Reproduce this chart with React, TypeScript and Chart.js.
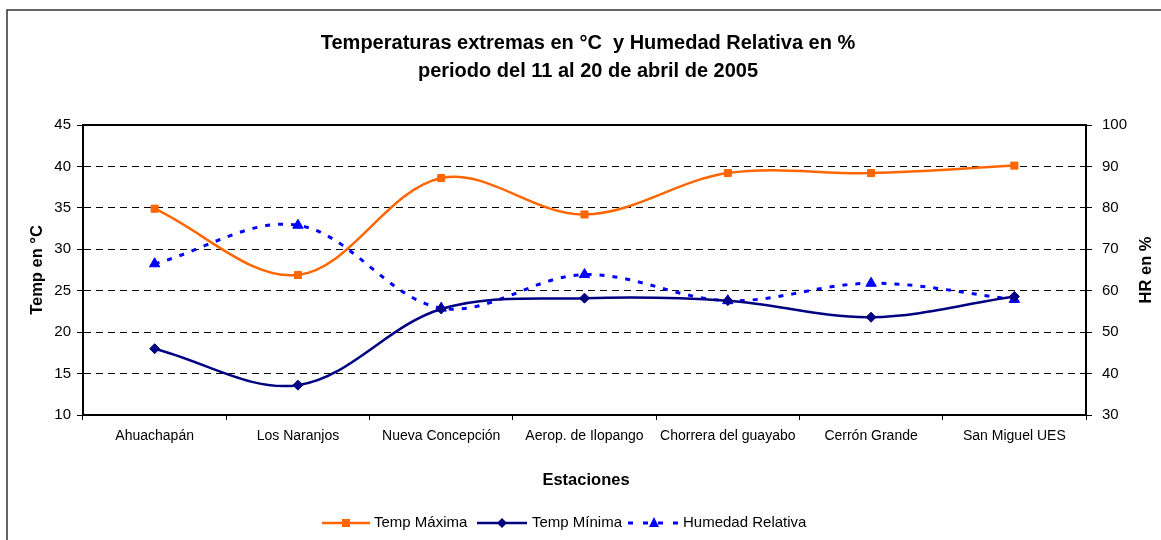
import React, { useEffect, useRef } from "react";
import { Chart, registerables } from "chart.js";

Chart.register(...registerables);

const stations = [
  "Ahuachapán",
  "Los Naranjos",
  "Nueva Concepción",
  "Aerop. de Ilopango",
  "Chorrera del guayabo",
  "Cerrón Grande",
  "San Miguel UES",
];
const tempMax = [34.9, 26.9, 38.6, 34.2, 39.2, 39.2, 40.1];
const tempMin = [18.0, 13.6, 22.8, 24.1, 23.8, 21.8, 24.3];
const humedad = [66.5, 75.8, 55.8, 63.9, 57.6, 61.8, 57.9];

const titleLines = [
  "Temperaturas extremas en °C  y Humedad Relativa en %",
  "periodo del 11 al 20 de abril de 2005",
];
const leftTitle = "Temp en °C";
const rightTitle = "HR en %";
const xTitle = "Estaciones";
const seriesNames = ["Temp Máxima", "Temp Mínima", "Humedad Relativa"];

const ORANGE = "#FF6600";
const NAVY = "#000080";
const BLUE = "#0000FF";
const FONT = '"Liberation Sans", Arial, sans-serif';

const decorPlugin = {
  id: "decor",
  beforeDraw(chart: any) {
    const ctx = chart.ctx;
    ctx.save();
    ctx.strokeStyle = "#333";
    ctx.lineWidth = 1.5;
    ctx.beginPath();
    ctx.moveTo(7, 1000);
    ctx.lineTo(7, 10);
    ctx.lineTo(2000, 10);
    ctx.stroke();
    ctx.restore();
  },
  afterDraw(chart: any) {
    const ctx = chart.ctx;
    const a = chart.chartArea;
    ctx.save();
    // plot border
    ctx.strokeStyle = "#000";
    ctx.lineWidth = 2;
    ctx.strokeRect(a.left, a.top, a.right - a.left, a.bottom - a.top);

    // title
    ctx.fillStyle = "#000";
    ctx.font = `bold 20px ${FONT}`;
    ctx.textAlign = "center";
    ctx.textBaseline = "middle";
    ctx.fillText(titleLines[0], 588, 43);
    ctx.fillText(titleLines[1], 588, 71);

    // axis titles
    ctx.font = `bold 16.5px ${FONT}`;
    ctx.fillText(xTitle, 586, 480);
    ctx.save();
    ctx.translate(37, 270);
    ctx.rotate(-Math.PI / 2);
    ctx.fillText(leftTitle, 0, 0);
    ctx.restore();
    ctx.save();
    ctx.translate(1146, 270);
    ctx.rotate(-Math.PI / 2);
    ctx.fillText(rightTitle, 0, 0);
    ctx.restore();

    // legend
    const ly = 523;
    ctx.font = `15px ${FONT}`;
    ctx.textAlign = "left";
    ctx.textBaseline = "middle";
    // item 1
    ctx.strokeStyle = ORANGE;
    ctx.lineWidth = 2.5;
    ctx.beginPath();
    ctx.moveTo(322, ly);
    ctx.lineTo(370, ly);
    ctx.stroke();
    ctx.fillStyle = ORANGE;
    ctx.fillRect(346 - 4, ly - 4, 8, 8);
    ctx.fillStyle = "#000";
    ctx.fillText(seriesNames[0], 374, ly);
    // item 2
    ctx.strokeStyle = NAVY;
    ctx.beginPath();
    ctx.moveTo(477, ly);
    ctx.lineTo(527, ly);
    ctx.stroke();
    ctx.fillStyle = NAVY;
    ctx.beginPath();
    ctx.moveTo(502, ly - 5);
    ctx.lineTo(507, ly);
    ctx.lineTo(502, ly + 5);
    ctx.lineTo(497, ly);
    ctx.closePath();
    ctx.fill();
    ctx.fillStyle = "#000";
    ctx.fillText(seriesNames[1], 532, ly);
    // item 3
    ctx.strokeStyle = BLUE;
    ctx.lineWidth = 3;
    ctx.setLineDash([5, 10]);
    ctx.beginPath();
    ctx.moveTo(628, ly);
    ctx.lineTo(680, ly);
    ctx.stroke();
    ctx.setLineDash([]);
    ctx.fillStyle = BLUE;
    ctx.beginPath();
    ctx.moveTo(654, ly - 6);
    ctx.lineTo(659, ly + 4);
    ctx.lineTo(649, ly + 4);
    ctx.closePath();
    ctx.fill();
    ctx.fillStyle = "#000";
    ctx.fillText(seriesNames[2], 683, ly);
    ctx.restore();
  },
};

export default function App() {
  const ref = useRef<HTMLCanvasElement>(null);

  useEffect(() => {
    if (!ref.current) return;
    Chart.defaults.font.family = FONT;
    const chart = new Chart(ref.current, {
      type: "line",
      data: {
        labels: stations,
        datasets: [
          {
            label: seriesNames[0],
            data: tempMax,
            yAxisID: "y",
            borderColor: ORANGE,
            backgroundColor: ORANGE,
            borderWidth: 2.5,
            pointStyle: "rect",
            pointRadius: 5,
            pointBorderWidth: 1,
            tension: 0.35,
          },
          {
            label: seriesNames[1],
            data: tempMin,
            yAxisID: "y",
            borderColor: NAVY,
            backgroundColor: NAVY,
            borderWidth: 2.5,
            pointStyle: "rectRot",
            pointRadius: 5,
            pointBorderWidth: 1,
            tension: 0.35,
          },
          {
            label: seriesNames[2],
            data: humedad,
            yAxisID: "y1",
            borderColor: BLUE,
            backgroundColor: BLUE,
            borderWidth: 3,
            borderDash: [5, 8],
            pointStyle: "triangle",
            pointRadius: 6,
            pointBorderWidth: 1,
            tension: 0.35,
          },
        ],
      },
      options: {
        animation: false,
        responsive: false,
        layout: { padding: { left: 0, right: 0, top: 125, bottom: 85 } },
        plugins: {
          legend: { display: false },
          title: { display: false },
          tooltip: { enabled: false },
        },
        scales: {
          x: {
            position: "bottom",
            offset: true,
            grid: {
              offset: true,
              drawOnChartArea: false,
              tickLength: 5,
              color: "#000",
              lineWidth: 1,
            },
            border: { color: "#000", width: 2 },
            ticks: {
              color: "#000",
              font: { size: 14 },
              padding: 8,
              maxRotation: 0,
              autoSkip: false,
            },
            afterFit: (s: any) => {
              s.height = 40;
            },
          },
          y: {
            position: "left",
            min: 10,
            max: 45,
            ticks: { stepSize: 5, color: "#000", font: { size: 15 }, padding: 6 },
            grid: {
              color: "#000",
              lineWidth: 1,
              tickLength: 6,
              tickBorderDash: [],
            },
            border: { color: "#000", width: 2, dash: [7, 5] },
            afterFit: (s: any) => {
              s.width = 83;
            },
          },
          y1: {
            position: "right",
            min: 30,
            max: 100,
            ticks: { stepSize: 10, color: "#000", font: { size: 15 }, padding: 10 },
            grid: {
              drawOnChartArea: false,
              color: "#000",
              tickLength: 6,
            },
            border: { color: "#000", width: 2 },
            afterFit: (s: any) => {
              s.width = 75;
            },
          },
        },
      },
      plugins: [decorPlugin],
    } as any);
    return () => chart.destroy();
  }, []);

  return (
    <div style={{ position: "absolute", left: 0, top: 0, width: 1161, height: 540, background: "#fff" }}>
      <canvas ref={ref} width={1161} height={540} style={{ width: 1161, height: 540 }} />
    </div>
  );
}
